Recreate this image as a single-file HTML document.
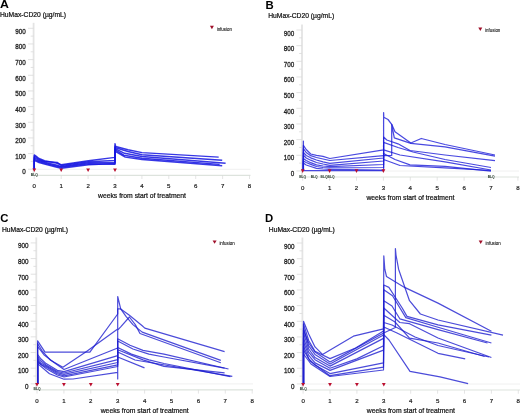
<!DOCTYPE html><html><head><meta charset="utf-8"><style>html,body{margin:0;padding:0;background:#fff;overflow:hidden}svg{display:block;will-change:transform}</style></head><body>
<svg width="520" height="413" viewBox="0 0 520 413" font-family='"Liberation Sans", sans-serif'>
<rect width="520" height="413" fill="#fff"/>
<text x="0.0" y="8.3" font-size="10.8" font-weight="bold" fill="#000" textLength="8.9" lengthAdjust="spacingAndGlyphs">A</text>
<text x="0.0" y="16.6" font-size="7" fill="#111" stroke="#111" stroke-width="0.22" textLength="66" lengthAdjust="spacingAndGlyphs">HuMax-CD20 (µg/mL)</text>
<line x1="33.6" y1="22.8" x2="33.6" y2="175.3" stroke="#e4e4e4" stroke-width="1.8"/>
<line x1="28.0" y1="28.30" x2="33.6" y2="28.30" stroke="#dadada" stroke-width="0.8"/>
<line x1="30.7" y1="36.13" x2="33.6" y2="36.13" stroke="#dadada" stroke-width="0.8"/>
<text x="25.8" y="33.85" font-size="7.2" fill="#1e1e1e" stroke="#1e1e1e" stroke-width="0.3" text-anchor="end" textLength="10.5" lengthAdjust="spacingAndGlyphs">900</text>
<line x1="28.0" y1="43.96" x2="33.6" y2="43.96" stroke="#dadada" stroke-width="0.8"/>
<line x1="30.7" y1="51.79" x2="33.6" y2="51.79" stroke="#dadada" stroke-width="0.8"/>
<text x="25.8" y="49.47" font-size="7.2" fill="#1e1e1e" stroke="#1e1e1e" stroke-width="0.3" text-anchor="end" textLength="10.5" lengthAdjust="spacingAndGlyphs">800</text>
<line x1="28.0" y1="59.62" x2="33.6" y2="59.62" stroke="#dadada" stroke-width="0.8"/>
<line x1="30.7" y1="67.45" x2="33.6" y2="67.45" stroke="#dadada" stroke-width="0.8"/>
<text x="25.8" y="65.08" font-size="7.2" fill="#1e1e1e" stroke="#1e1e1e" stroke-width="0.3" text-anchor="end" textLength="10.5" lengthAdjust="spacingAndGlyphs">700</text>
<line x1="28.0" y1="75.28" x2="33.6" y2="75.28" stroke="#dadada" stroke-width="0.8"/>
<line x1="30.7" y1="83.11" x2="33.6" y2="83.11" stroke="#dadada" stroke-width="0.8"/>
<text x="25.8" y="80.70" font-size="7.2" fill="#1e1e1e" stroke="#1e1e1e" stroke-width="0.3" text-anchor="end" textLength="10.5" lengthAdjust="spacingAndGlyphs">600</text>
<line x1="28.0" y1="90.94" x2="33.6" y2="90.94" stroke="#dadada" stroke-width="0.8"/>
<line x1="30.7" y1="98.77" x2="33.6" y2="98.77" stroke="#dadada" stroke-width="0.8"/>
<text x="25.8" y="96.32" font-size="7.2" fill="#1e1e1e" stroke="#1e1e1e" stroke-width="0.3" text-anchor="end" textLength="10.5" lengthAdjust="spacingAndGlyphs">500</text>
<line x1="28.0" y1="106.60" x2="33.6" y2="106.60" stroke="#dadada" stroke-width="0.8"/>
<line x1="30.7" y1="114.43" x2="33.6" y2="114.43" stroke="#dadada" stroke-width="0.8"/>
<text x="25.8" y="111.94" font-size="7.2" fill="#1e1e1e" stroke="#1e1e1e" stroke-width="0.3" text-anchor="end" textLength="10.5" lengthAdjust="spacingAndGlyphs">400</text>
<line x1="28.0" y1="122.26" x2="33.6" y2="122.26" stroke="#dadada" stroke-width="0.8"/>
<line x1="30.7" y1="130.09" x2="33.6" y2="130.09" stroke="#dadada" stroke-width="0.8"/>
<text x="25.8" y="127.55" font-size="7.2" fill="#1e1e1e" stroke="#1e1e1e" stroke-width="0.3" text-anchor="end" textLength="10.5" lengthAdjust="spacingAndGlyphs">300</text>
<line x1="28.0" y1="137.92" x2="33.6" y2="137.92" stroke="#dadada" stroke-width="0.8"/>
<line x1="30.7" y1="145.75" x2="33.6" y2="145.75" stroke="#dadada" stroke-width="0.8"/>
<text x="25.8" y="143.17" font-size="7.2" fill="#1e1e1e" stroke="#1e1e1e" stroke-width="0.3" text-anchor="end" textLength="10.5" lengthAdjust="spacingAndGlyphs">200</text>
<line x1="28.0" y1="153.58" x2="33.6" y2="153.58" stroke="#dadada" stroke-width="0.8"/>
<line x1="30.7" y1="161.41" x2="33.6" y2="161.41" stroke="#dadada" stroke-width="0.8"/>
<text x="25.8" y="158.79" font-size="7.2" fill="#1e1e1e" stroke="#1e1e1e" stroke-width="0.3" text-anchor="end" textLength="10.5" lengthAdjust="spacingAndGlyphs">100</text>
<line x1="28.0" y1="169.24" x2="33.6" y2="169.24" stroke="#dadada" stroke-width="0.8"/>
<text x="25.8" y="174.40" font-size="7.2" fill="#1e1e1e" stroke="#1e1e1e" stroke-width="0.3" text-anchor="end" textLength="3.5" lengthAdjust="spacingAndGlyphs">0</text>
<line x1="33.6" y1="169.30" x2="250.5" y2="169.30" stroke="#f0f0f0" stroke-width="1"/>
<line x1="31.0" y1="175.30" x2="250.5" y2="175.30" stroke="#dde3dd" stroke-width="1.2"/>
<line x1="34.30" y1="175.30" x2="34.30" y2="179.00" stroke="#dadada" stroke-width="0.7"/>
<text x="34.30" y="188.30" font-size="6.1" fill="#1e1e1e" stroke="#1e1e1e" stroke-width="0.2" text-anchor="middle">0</text>
<line x1="61.20" y1="175.30" x2="61.20" y2="179.00" stroke="#dadada" stroke-width="0.7"/>
<text x="61.20" y="188.30" font-size="6.1" fill="#1e1e1e" stroke="#1e1e1e" stroke-width="0.2" text-anchor="middle">1</text>
<line x1="88.10" y1="175.30" x2="88.10" y2="179.00" stroke="#dadada" stroke-width="0.7"/>
<text x="88.10" y="188.30" font-size="6.1" fill="#1e1e1e" stroke="#1e1e1e" stroke-width="0.2" text-anchor="middle">2</text>
<line x1="115.00" y1="175.30" x2="115.00" y2="179.00" stroke="#dadada" stroke-width="0.7"/>
<text x="115.00" y="188.30" font-size="6.1" fill="#1e1e1e" stroke="#1e1e1e" stroke-width="0.2" text-anchor="middle">3</text>
<line x1="141.90" y1="175.30" x2="141.90" y2="179.00" stroke="#dadada" stroke-width="0.7"/>
<text x="141.90" y="188.30" font-size="6.1" fill="#1e1e1e" stroke="#1e1e1e" stroke-width="0.2" text-anchor="middle">4</text>
<line x1="168.80" y1="175.30" x2="168.80" y2="179.00" stroke="#dadada" stroke-width="0.7"/>
<text x="168.80" y="188.30" font-size="6.1" fill="#1e1e1e" stroke="#1e1e1e" stroke-width="0.2" text-anchor="middle">5</text>
<line x1="195.70" y1="175.30" x2="195.70" y2="179.00" stroke="#dadada" stroke-width="0.7"/>
<text x="195.70" y="188.30" font-size="6.1" fill="#1e1e1e" stroke="#1e1e1e" stroke-width="0.2" text-anchor="middle">6</text>
<line x1="222.60" y1="175.30" x2="222.60" y2="179.00" stroke="#dadada" stroke-width="0.7"/>
<text x="222.60" y="188.30" font-size="6.1" fill="#1e1e1e" stroke="#1e1e1e" stroke-width="0.2" text-anchor="middle">7</text>
<line x1="249.50" y1="175.30" x2="249.50" y2="179.00" stroke="#dadada" stroke-width="0.7"/>
<text x="249.50" y="188.30" font-size="6.1" fill="#1e1e1e" stroke="#1e1e1e" stroke-width="0.2" text-anchor="middle">8</text>
<text x="98.00" y="198.00" font-size="7.4" fill="#111" stroke="#111" stroke-width="0.22" textLength="88" lengthAdjust="spacingAndGlyphs">weeks from start of treatment</text>
<path d="M209.90,25.80 h4 l-2,3.4 z" fill="#a0102a"/>
<text x="216.70" y="30.50" font-size="4.8" fill="#222" stroke="#222" stroke-width="0.12" textLength="15.2" lengthAdjust="spacingAndGlyphs">infusion</text>
<text x="265.6" y="8.6" font-size="10.8" font-weight="bold" fill="#000" textLength="8.2" lengthAdjust="spacingAndGlyphs">B</text>
<text x="268.2" y="18.4" font-size="7" fill="#111" stroke="#111" stroke-width="0.22" textLength="66" lengthAdjust="spacingAndGlyphs">HuMax-CD20 (µg/mL)</text>
<line x1="302.0" y1="24.5" x2="302.0" y2="177.0" stroke="#e4e4e4" stroke-width="1.8"/>
<line x1="296.4" y1="30.00" x2="302.0" y2="30.00" stroke="#dadada" stroke-width="0.8"/>
<line x1="299.09999999999997" y1="37.83" x2="302.0" y2="37.83" stroke="#dadada" stroke-width="0.8"/>
<text x="294.2" y="35.55" font-size="7.2" fill="#1e1e1e" stroke="#1e1e1e" stroke-width="0.3" text-anchor="end" textLength="10.5" lengthAdjust="spacingAndGlyphs">900</text>
<line x1="296.4" y1="45.66" x2="302.0" y2="45.66" stroke="#dadada" stroke-width="0.8"/>
<line x1="299.09999999999997" y1="53.49" x2="302.0" y2="53.49" stroke="#dadada" stroke-width="0.8"/>
<text x="294.2" y="51.17" font-size="7.2" fill="#1e1e1e" stroke="#1e1e1e" stroke-width="0.3" text-anchor="end" textLength="10.5" lengthAdjust="spacingAndGlyphs">800</text>
<line x1="296.4" y1="61.32" x2="302.0" y2="61.32" stroke="#dadada" stroke-width="0.8"/>
<line x1="299.09999999999997" y1="69.15" x2="302.0" y2="69.15" stroke="#dadada" stroke-width="0.8"/>
<text x="294.2" y="66.78" font-size="7.2" fill="#1e1e1e" stroke="#1e1e1e" stroke-width="0.3" text-anchor="end" textLength="10.5" lengthAdjust="spacingAndGlyphs">700</text>
<line x1="296.4" y1="76.98" x2="302.0" y2="76.98" stroke="#dadada" stroke-width="0.8"/>
<line x1="299.09999999999997" y1="84.81" x2="302.0" y2="84.81" stroke="#dadada" stroke-width="0.8"/>
<text x="294.2" y="82.40" font-size="7.2" fill="#1e1e1e" stroke="#1e1e1e" stroke-width="0.3" text-anchor="end" textLength="10.5" lengthAdjust="spacingAndGlyphs">600</text>
<line x1="296.4" y1="92.64" x2="302.0" y2="92.64" stroke="#dadada" stroke-width="0.8"/>
<line x1="299.09999999999997" y1="100.47" x2="302.0" y2="100.47" stroke="#dadada" stroke-width="0.8"/>
<text x="294.2" y="98.02" font-size="7.2" fill="#1e1e1e" stroke="#1e1e1e" stroke-width="0.3" text-anchor="end" textLength="10.5" lengthAdjust="spacingAndGlyphs">500</text>
<line x1="296.4" y1="108.30" x2="302.0" y2="108.30" stroke="#dadada" stroke-width="0.8"/>
<line x1="299.09999999999997" y1="116.13" x2="302.0" y2="116.13" stroke="#dadada" stroke-width="0.8"/>
<text x="294.2" y="113.64" font-size="7.2" fill="#1e1e1e" stroke="#1e1e1e" stroke-width="0.3" text-anchor="end" textLength="10.5" lengthAdjust="spacingAndGlyphs">400</text>
<line x1="296.4" y1="123.96" x2="302.0" y2="123.96" stroke="#dadada" stroke-width="0.8"/>
<line x1="299.09999999999997" y1="131.79" x2="302.0" y2="131.79" stroke="#dadada" stroke-width="0.8"/>
<text x="294.2" y="129.25" font-size="7.2" fill="#1e1e1e" stroke="#1e1e1e" stroke-width="0.3" text-anchor="end" textLength="10.5" lengthAdjust="spacingAndGlyphs">300</text>
<line x1="296.4" y1="139.62" x2="302.0" y2="139.62" stroke="#dadada" stroke-width="0.8"/>
<line x1="299.09999999999997" y1="147.45" x2="302.0" y2="147.45" stroke="#dadada" stroke-width="0.8"/>
<text x="294.2" y="144.87" font-size="7.2" fill="#1e1e1e" stroke="#1e1e1e" stroke-width="0.3" text-anchor="end" textLength="10.5" lengthAdjust="spacingAndGlyphs">200</text>
<line x1="296.4" y1="155.28" x2="302.0" y2="155.28" stroke="#dadada" stroke-width="0.8"/>
<line x1="299.09999999999997" y1="163.11" x2="302.0" y2="163.11" stroke="#dadada" stroke-width="0.8"/>
<text x="294.2" y="160.49" font-size="7.2" fill="#1e1e1e" stroke="#1e1e1e" stroke-width="0.3" text-anchor="end" textLength="10.5" lengthAdjust="spacingAndGlyphs">100</text>
<line x1="296.4" y1="170.94" x2="302.0" y2="170.94" stroke="#dadada" stroke-width="0.8"/>
<text x="294.2" y="176.10" font-size="7.2" fill="#1e1e1e" stroke="#1e1e1e" stroke-width="0.3" text-anchor="end" textLength="3.5" lengthAdjust="spacingAndGlyphs">0</text>
<line x1="302.0" y1="171.00" x2="519" y2="171.00" stroke="#f0f0f0" stroke-width="1"/>
<line x1="299.4" y1="177.00" x2="519" y2="177.00" stroke="#dde3dd" stroke-width="1.2"/>
<line x1="302.70" y1="177.00" x2="302.70" y2="180.70" stroke="#dadada" stroke-width="0.7"/>
<text x="302.70" y="190.00" font-size="6.1" fill="#1e1e1e" stroke="#1e1e1e" stroke-width="0.2" text-anchor="middle">0</text>
<line x1="329.60" y1="177.00" x2="329.60" y2="180.70" stroke="#dadada" stroke-width="0.7"/>
<text x="329.60" y="190.00" font-size="6.1" fill="#1e1e1e" stroke="#1e1e1e" stroke-width="0.2" text-anchor="middle">1</text>
<line x1="356.50" y1="177.00" x2="356.50" y2="180.70" stroke="#dadada" stroke-width="0.7"/>
<text x="356.50" y="190.00" font-size="6.1" fill="#1e1e1e" stroke="#1e1e1e" stroke-width="0.2" text-anchor="middle">2</text>
<line x1="383.40" y1="177.00" x2="383.40" y2="180.70" stroke="#dadada" stroke-width="0.7"/>
<text x="383.40" y="190.00" font-size="6.1" fill="#1e1e1e" stroke="#1e1e1e" stroke-width="0.2" text-anchor="middle">3</text>
<line x1="410.30" y1="177.00" x2="410.30" y2="180.70" stroke="#dadada" stroke-width="0.7"/>
<text x="410.30" y="190.00" font-size="6.1" fill="#1e1e1e" stroke="#1e1e1e" stroke-width="0.2" text-anchor="middle">4</text>
<line x1="437.20" y1="177.00" x2="437.20" y2="180.70" stroke="#dadada" stroke-width="0.7"/>
<text x="437.20" y="190.00" font-size="6.1" fill="#1e1e1e" stroke="#1e1e1e" stroke-width="0.2" text-anchor="middle">5</text>
<line x1="464.10" y1="177.00" x2="464.10" y2="180.70" stroke="#dadada" stroke-width="0.7"/>
<text x="464.10" y="190.00" font-size="6.1" fill="#1e1e1e" stroke="#1e1e1e" stroke-width="0.2" text-anchor="middle">6</text>
<line x1="491.00" y1="177.00" x2="491.00" y2="180.70" stroke="#dadada" stroke-width="0.7"/>
<text x="491.00" y="190.00" font-size="6.1" fill="#1e1e1e" stroke="#1e1e1e" stroke-width="0.2" text-anchor="middle">7</text>
<line x1="517.90" y1="177.00" x2="517.90" y2="180.70" stroke="#dadada" stroke-width="0.7"/>
<text x="517.90" y="190.00" font-size="6.1" fill="#1e1e1e" stroke="#1e1e1e" stroke-width="0.2" text-anchor="middle">8</text>
<text x="366.40" y="199.70" font-size="7.4" fill="#111" stroke="#111" stroke-width="0.22" textLength="88" lengthAdjust="spacingAndGlyphs">weeks from start of treatment</text>
<path d="M478.30,27.50 h4 l-2,3.4 z" fill="#a0102a"/>
<text x="485.10" y="32.20" font-size="4.8" fill="#222" stroke="#222" stroke-width="0.12" textLength="15.2" lengthAdjust="spacingAndGlyphs">infusion</text>
<text x="0.3" y="221.9" font-size="10.8" font-weight="bold" fill="#000" textLength="8.2" lengthAdjust="spacingAndGlyphs">C</text>
<text x="2.0" y="231.7" font-size="7" fill="#111" stroke="#111" stroke-width="0.22" textLength="66" lengthAdjust="spacingAndGlyphs">HuMax-CD20 (µg/mL)</text>
<line x1="36.300000000000004" y1="237.4" x2="36.300000000000004" y2="389.9" stroke="#e4e4e4" stroke-width="1.8"/>
<line x1="30.7" y1="242.90" x2="36.300000000000004" y2="242.90" stroke="#dadada" stroke-width="0.8"/>
<line x1="33.4" y1="250.73" x2="36.300000000000004" y2="250.73" stroke="#dadada" stroke-width="0.8"/>
<text x="28.5" y="248.45" font-size="7.2" fill="#1e1e1e" stroke="#1e1e1e" stroke-width="0.3" text-anchor="end" textLength="10.5" lengthAdjust="spacingAndGlyphs">900</text>
<line x1="30.7" y1="258.56" x2="36.300000000000004" y2="258.56" stroke="#dadada" stroke-width="0.8"/>
<line x1="33.4" y1="266.39" x2="36.300000000000004" y2="266.39" stroke="#dadada" stroke-width="0.8"/>
<text x="28.5" y="264.07" font-size="7.2" fill="#1e1e1e" stroke="#1e1e1e" stroke-width="0.3" text-anchor="end" textLength="10.5" lengthAdjust="spacingAndGlyphs">800</text>
<line x1="30.7" y1="274.22" x2="36.300000000000004" y2="274.22" stroke="#dadada" stroke-width="0.8"/>
<line x1="33.4" y1="282.05" x2="36.300000000000004" y2="282.05" stroke="#dadada" stroke-width="0.8"/>
<text x="28.5" y="279.68" font-size="7.2" fill="#1e1e1e" stroke="#1e1e1e" stroke-width="0.3" text-anchor="end" textLength="10.5" lengthAdjust="spacingAndGlyphs">700</text>
<line x1="30.7" y1="289.88" x2="36.300000000000004" y2="289.88" stroke="#dadada" stroke-width="0.8"/>
<line x1="33.4" y1="297.71" x2="36.300000000000004" y2="297.71" stroke="#dadada" stroke-width="0.8"/>
<text x="28.5" y="295.30" font-size="7.2" fill="#1e1e1e" stroke="#1e1e1e" stroke-width="0.3" text-anchor="end" textLength="10.5" lengthAdjust="spacingAndGlyphs">600</text>
<line x1="30.7" y1="305.54" x2="36.300000000000004" y2="305.54" stroke="#dadada" stroke-width="0.8"/>
<line x1="33.4" y1="313.37" x2="36.300000000000004" y2="313.37" stroke="#dadada" stroke-width="0.8"/>
<text x="28.5" y="310.92" font-size="7.2" fill="#1e1e1e" stroke="#1e1e1e" stroke-width="0.3" text-anchor="end" textLength="10.5" lengthAdjust="spacingAndGlyphs">500</text>
<line x1="30.7" y1="321.20" x2="36.300000000000004" y2="321.20" stroke="#dadada" stroke-width="0.8"/>
<line x1="33.4" y1="329.03" x2="36.300000000000004" y2="329.03" stroke="#dadada" stroke-width="0.8"/>
<text x="28.5" y="326.53" font-size="7.2" fill="#1e1e1e" stroke="#1e1e1e" stroke-width="0.3" text-anchor="end" textLength="10.5" lengthAdjust="spacingAndGlyphs">400</text>
<line x1="30.7" y1="336.86" x2="36.300000000000004" y2="336.86" stroke="#dadada" stroke-width="0.8"/>
<line x1="33.4" y1="344.69" x2="36.300000000000004" y2="344.69" stroke="#dadada" stroke-width="0.8"/>
<text x="28.5" y="342.15" font-size="7.2" fill="#1e1e1e" stroke="#1e1e1e" stroke-width="0.3" text-anchor="end" textLength="10.5" lengthAdjust="spacingAndGlyphs">300</text>
<line x1="30.7" y1="352.52" x2="36.300000000000004" y2="352.52" stroke="#dadada" stroke-width="0.8"/>
<line x1="33.4" y1="360.35" x2="36.300000000000004" y2="360.35" stroke="#dadada" stroke-width="0.8"/>
<text x="28.5" y="357.77" font-size="7.2" fill="#1e1e1e" stroke="#1e1e1e" stroke-width="0.3" text-anchor="end" textLength="10.5" lengthAdjust="spacingAndGlyphs">200</text>
<line x1="30.7" y1="368.18" x2="36.300000000000004" y2="368.18" stroke="#dadada" stroke-width="0.8"/>
<line x1="33.4" y1="376.01" x2="36.300000000000004" y2="376.01" stroke="#dadada" stroke-width="0.8"/>
<text x="28.5" y="373.39" font-size="7.2" fill="#1e1e1e" stroke="#1e1e1e" stroke-width="0.3" text-anchor="end" textLength="10.5" lengthAdjust="spacingAndGlyphs">100</text>
<line x1="30.7" y1="383.84" x2="36.300000000000004" y2="383.84" stroke="#dadada" stroke-width="0.8"/>
<text x="28.5" y="389.00" font-size="7.2" fill="#1e1e1e" stroke="#1e1e1e" stroke-width="0.3" text-anchor="end" textLength="3.5" lengthAdjust="spacingAndGlyphs">0</text>
<line x1="36.300000000000004" y1="383.90" x2="253" y2="383.90" stroke="#f0f0f0" stroke-width="1"/>
<line x1="33.7" y1="389.90" x2="253" y2="389.90" stroke="#dde3dd" stroke-width="1.2"/>
<line x1="37.00" y1="389.90" x2="37.00" y2="393.60" stroke="#dadada" stroke-width="0.7"/>
<text x="37.00" y="402.90" font-size="6.1" fill="#1e1e1e" stroke="#1e1e1e" stroke-width="0.2" text-anchor="middle">0</text>
<line x1="63.90" y1="389.90" x2="63.90" y2="393.60" stroke="#dadada" stroke-width="0.7"/>
<text x="63.90" y="402.90" font-size="6.1" fill="#1e1e1e" stroke="#1e1e1e" stroke-width="0.2" text-anchor="middle">1</text>
<line x1="90.80" y1="389.90" x2="90.80" y2="393.60" stroke="#dadada" stroke-width="0.7"/>
<text x="90.80" y="402.90" font-size="6.1" fill="#1e1e1e" stroke="#1e1e1e" stroke-width="0.2" text-anchor="middle">2</text>
<line x1="117.70" y1="389.90" x2="117.70" y2="393.60" stroke="#dadada" stroke-width="0.7"/>
<text x="117.70" y="402.90" font-size="6.1" fill="#1e1e1e" stroke="#1e1e1e" stroke-width="0.2" text-anchor="middle">3</text>
<line x1="144.60" y1="389.90" x2="144.60" y2="393.60" stroke="#dadada" stroke-width="0.7"/>
<text x="144.60" y="402.90" font-size="6.1" fill="#1e1e1e" stroke="#1e1e1e" stroke-width="0.2" text-anchor="middle">4</text>
<line x1="171.50" y1="389.90" x2="171.50" y2="393.60" stroke="#dadada" stroke-width="0.7"/>
<text x="171.50" y="402.90" font-size="6.1" fill="#1e1e1e" stroke="#1e1e1e" stroke-width="0.2" text-anchor="middle">5</text>
<line x1="198.40" y1="389.90" x2="198.40" y2="393.60" stroke="#dadada" stroke-width="0.7"/>
<text x="198.40" y="402.90" font-size="6.1" fill="#1e1e1e" stroke="#1e1e1e" stroke-width="0.2" text-anchor="middle">6</text>
<line x1="225.30" y1="389.90" x2="225.30" y2="393.60" stroke="#dadada" stroke-width="0.7"/>
<text x="225.30" y="402.90" font-size="6.1" fill="#1e1e1e" stroke="#1e1e1e" stroke-width="0.2" text-anchor="middle">7</text>
<line x1="252.20" y1="389.90" x2="252.20" y2="393.60" stroke="#dadada" stroke-width="0.7"/>
<text x="252.20" y="402.90" font-size="6.1" fill="#1e1e1e" stroke="#1e1e1e" stroke-width="0.2" text-anchor="middle">8</text>
<text x="100.70" y="412.60" font-size="7.4" fill="#111" stroke="#111" stroke-width="0.22" textLength="88" lengthAdjust="spacingAndGlyphs">weeks from start of treatment</text>
<path d="M212.60,240.40 h4 l-2,3.4 z" fill="#a0102a"/>
<text x="219.40" y="245.10" font-size="4.8" fill="#222" stroke="#222" stroke-width="0.12" textLength="15.2" lengthAdjust="spacingAndGlyphs">infusion</text>
<text x="265.0" y="222.0" font-size="10.8" font-weight="bold" fill="#000" textLength="8.2" lengthAdjust="spacingAndGlyphs">D</text>
<text x="268.8" y="231.5" font-size="7" fill="#111" stroke="#111" stroke-width="0.22" textLength="66" lengthAdjust="spacingAndGlyphs">HuMax-CD20 (µg/mL)</text>
<line x1="302.40000000000003" y1="237.5" x2="302.40000000000003" y2="390.0" stroke="#e4e4e4" stroke-width="1.8"/>
<line x1="296.8" y1="243.00" x2="302.40000000000003" y2="243.00" stroke="#dadada" stroke-width="0.8"/>
<line x1="299.5" y1="250.83" x2="302.40000000000003" y2="250.83" stroke="#dadada" stroke-width="0.8"/>
<text x="294.6" y="248.55" font-size="7.2" fill="#1e1e1e" stroke="#1e1e1e" stroke-width="0.3" text-anchor="end" textLength="10.5" lengthAdjust="spacingAndGlyphs">900</text>
<line x1="296.8" y1="258.66" x2="302.40000000000003" y2="258.66" stroke="#dadada" stroke-width="0.8"/>
<line x1="299.5" y1="266.49" x2="302.40000000000003" y2="266.49" stroke="#dadada" stroke-width="0.8"/>
<text x="294.6" y="264.17" font-size="7.2" fill="#1e1e1e" stroke="#1e1e1e" stroke-width="0.3" text-anchor="end" textLength="10.5" lengthAdjust="spacingAndGlyphs">800</text>
<line x1="296.8" y1="274.32" x2="302.40000000000003" y2="274.32" stroke="#dadada" stroke-width="0.8"/>
<line x1="299.5" y1="282.15" x2="302.40000000000003" y2="282.15" stroke="#dadada" stroke-width="0.8"/>
<text x="294.6" y="279.78" font-size="7.2" fill="#1e1e1e" stroke="#1e1e1e" stroke-width="0.3" text-anchor="end" textLength="10.5" lengthAdjust="spacingAndGlyphs">700</text>
<line x1="296.8" y1="289.98" x2="302.40000000000003" y2="289.98" stroke="#dadada" stroke-width="0.8"/>
<line x1="299.5" y1="297.81" x2="302.40000000000003" y2="297.81" stroke="#dadada" stroke-width="0.8"/>
<text x="294.6" y="295.40" font-size="7.2" fill="#1e1e1e" stroke="#1e1e1e" stroke-width="0.3" text-anchor="end" textLength="10.5" lengthAdjust="spacingAndGlyphs">600</text>
<line x1="296.8" y1="305.64" x2="302.40000000000003" y2="305.64" stroke="#dadada" stroke-width="0.8"/>
<line x1="299.5" y1="313.47" x2="302.40000000000003" y2="313.47" stroke="#dadada" stroke-width="0.8"/>
<text x="294.6" y="311.02" font-size="7.2" fill="#1e1e1e" stroke="#1e1e1e" stroke-width="0.3" text-anchor="end" textLength="10.5" lengthAdjust="spacingAndGlyphs">500</text>
<line x1="296.8" y1="321.30" x2="302.40000000000003" y2="321.30" stroke="#dadada" stroke-width="0.8"/>
<line x1="299.5" y1="329.13" x2="302.40000000000003" y2="329.13" stroke="#dadada" stroke-width="0.8"/>
<text x="294.6" y="326.63" font-size="7.2" fill="#1e1e1e" stroke="#1e1e1e" stroke-width="0.3" text-anchor="end" textLength="10.5" lengthAdjust="spacingAndGlyphs">400</text>
<line x1="296.8" y1="336.96" x2="302.40000000000003" y2="336.96" stroke="#dadada" stroke-width="0.8"/>
<line x1="299.5" y1="344.79" x2="302.40000000000003" y2="344.79" stroke="#dadada" stroke-width="0.8"/>
<text x="294.6" y="342.25" font-size="7.2" fill="#1e1e1e" stroke="#1e1e1e" stroke-width="0.3" text-anchor="end" textLength="10.5" lengthAdjust="spacingAndGlyphs">300</text>
<line x1="296.8" y1="352.62" x2="302.40000000000003" y2="352.62" stroke="#dadada" stroke-width="0.8"/>
<line x1="299.5" y1="360.45" x2="302.40000000000003" y2="360.45" stroke="#dadada" stroke-width="0.8"/>
<text x="294.6" y="357.87" font-size="7.2" fill="#1e1e1e" stroke="#1e1e1e" stroke-width="0.3" text-anchor="end" textLength="10.5" lengthAdjust="spacingAndGlyphs">200</text>
<line x1="296.8" y1="368.28" x2="302.40000000000003" y2="368.28" stroke="#dadada" stroke-width="0.8"/>
<line x1="299.5" y1="376.11" x2="302.40000000000003" y2="376.11" stroke="#dadada" stroke-width="0.8"/>
<text x="294.6" y="373.49" font-size="7.2" fill="#1e1e1e" stroke="#1e1e1e" stroke-width="0.3" text-anchor="end" textLength="10.5" lengthAdjust="spacingAndGlyphs">100</text>
<line x1="296.8" y1="383.94" x2="302.40000000000003" y2="383.94" stroke="#dadada" stroke-width="0.8"/>
<text x="294.6" y="389.10" font-size="7.2" fill="#1e1e1e" stroke="#1e1e1e" stroke-width="0.3" text-anchor="end" textLength="3.5" lengthAdjust="spacingAndGlyphs">0</text>
<line x1="302.40000000000003" y1="384.00" x2="520" y2="384.00" stroke="#f0f0f0" stroke-width="1"/>
<line x1="299.8" y1="390.00" x2="520" y2="390.00" stroke="#dde3dd" stroke-width="1.2"/>
<line x1="303.10" y1="390.00" x2="303.10" y2="393.70" stroke="#dadada" stroke-width="0.7"/>
<text x="303.10" y="403.00" font-size="6.1" fill="#1e1e1e" stroke="#1e1e1e" stroke-width="0.2" text-anchor="middle">0</text>
<line x1="330.00" y1="390.00" x2="330.00" y2="393.70" stroke="#dadada" stroke-width="0.7"/>
<text x="330.00" y="403.00" font-size="6.1" fill="#1e1e1e" stroke="#1e1e1e" stroke-width="0.2" text-anchor="middle">1</text>
<line x1="356.90" y1="390.00" x2="356.90" y2="393.70" stroke="#dadada" stroke-width="0.7"/>
<text x="356.90" y="403.00" font-size="6.1" fill="#1e1e1e" stroke="#1e1e1e" stroke-width="0.2" text-anchor="middle">2</text>
<line x1="383.80" y1="390.00" x2="383.80" y2="393.70" stroke="#dadada" stroke-width="0.7"/>
<text x="383.80" y="403.00" font-size="6.1" fill="#1e1e1e" stroke="#1e1e1e" stroke-width="0.2" text-anchor="middle">3</text>
<line x1="410.70" y1="390.00" x2="410.70" y2="393.70" stroke="#dadada" stroke-width="0.7"/>
<text x="410.70" y="403.00" font-size="6.1" fill="#1e1e1e" stroke="#1e1e1e" stroke-width="0.2" text-anchor="middle">4</text>
<line x1="437.60" y1="390.00" x2="437.60" y2="393.70" stroke="#dadada" stroke-width="0.7"/>
<text x="437.60" y="403.00" font-size="6.1" fill="#1e1e1e" stroke="#1e1e1e" stroke-width="0.2" text-anchor="middle">5</text>
<line x1="464.50" y1="390.00" x2="464.50" y2="393.70" stroke="#dadada" stroke-width="0.7"/>
<text x="464.50" y="403.00" font-size="6.1" fill="#1e1e1e" stroke="#1e1e1e" stroke-width="0.2" text-anchor="middle">6</text>
<line x1="491.40" y1="390.00" x2="491.40" y2="393.70" stroke="#dadada" stroke-width="0.7"/>
<text x="491.40" y="403.00" font-size="6.1" fill="#1e1e1e" stroke="#1e1e1e" stroke-width="0.2" text-anchor="middle">7</text>
<line x1="518.30" y1="390.00" x2="518.30" y2="393.70" stroke="#dadada" stroke-width="0.7"/>
<text x="518.30" y="403.00" font-size="6.1" fill="#1e1e1e" stroke="#1e1e1e" stroke-width="0.2" text-anchor="middle">8</text>
<text x="366.80" y="412.70" font-size="7.4" fill="#111" stroke="#111" stroke-width="0.22" textLength="88" lengthAdjust="spacingAndGlyphs">weeks from start of treatment</text>
<path d="M478.70,240.50 h4 l-2,3.4 z" fill="#a0102a"/>
<text x="485.50" y="245.20" font-size="4.8" fill="#222" stroke="#222" stroke-width="0.12" textLength="15.2" lengthAdjust="spacingAndGlyphs">infusion</text>
<g fill="none" stroke="#1414e0" stroke-width="1.45" stroke-opacity="0.85" stroke-linejoin="round">
<path d="M34.30,169.30 L34.30,154.90 L36.00,156.00 L39.00,158.50 L44.50,160.70 L56.00,163.00 L61.30,164.70 L88.40,160.70 L115.00,157.40 L115.00,143.60 L115.70,146.50 L128.00,149.80 L142.00,152.60 L218.70,157.10"/>
<path d="M34.30,169.30 L34.30,156.00 L36.00,157.20 L39.00,159.50 L44.50,161.50 L57.20,162.40 L61.30,165.50 L88.40,161.70 L115.00,160.50 L115.00,146.00 L115.70,147.70 L128.00,151.50 L142.00,154.80 L222.20,160.20"/>
<path d="M34.30,169.30 L34.30,157.50 L36.00,158.50 L39.00,160.50 L44.50,162.30 L56.00,165.00 L61.30,166.50 L88.40,162.70 L115.00,162.40 L115.00,147.50 L115.70,148.80 L124.50,153.30 L142.00,156.50 L225.60,163.20"/>
<path d="M34.30,169.30 L34.30,159.00 L36.00,159.80 L39.00,161.50 L44.50,163.20 L56.00,166.00 L61.30,167.30 L88.40,163.70 L115.00,164.25 L115.00,149.00 L115.70,150.00 L123.80,155.20 L142.00,158.30 L219.60,164.40"/>
<path d="M34.30,169.30 L34.30,160.50 L36.00,161.00 L39.00,162.50 L44.50,164.10 L56.00,167.00 L61.30,168.20 L88.40,164.70 L115.00,163.50 L115.00,150.00 L115.70,151.50 L125.30,157.10 L142.00,159.50 L222.20,165.80"/>
</g>
<g fill="none" stroke="#1c1cd8" stroke-width="1.25" stroke-opacity="0.8" stroke-linejoin="round">
<path d="M303.40,170.80 L303.40,141.00 L303.40,145.40"/>
<path d="M303.40,170.80 L303.40,145.40 L306.20,149.50 L310.70,154.00 L316.50,155.30 L323.00,156.30 L329.80,158.50 L383.60,149.80 L383.60,112.50 L383.80,117.20 L388.00,119.50 L391.70,124.30 L395.00,131.80 L410.80,143.00 L421.30,138.50 L445.00,144.50 L495.00,155.00"/>
<path d="M303.40,170.80 L303.40,148.70 L306.20,152.50 L310.70,155.70 L316.50,157.50 L323.00,159.00 L329.80,160.50 L383.60,155.60 L391.70,155.50 L391.70,124.30 L394.30,137.80 L410.80,143.30 L445.00,146.80 L495.00,156.20"/>
<path d="M303.40,170.80 L303.40,152.40 L306.20,155.50 L310.70,157.80 L316.50,160.00 L323.00,161.80 L329.80,163.30 L383.60,158.00 L383.60,137.00 L386.80,140.00 L398.00,143.80 L410.00,150.50 L445.00,155.00 L495.00,160.60"/>
<path d="M303.40,170.80 L303.40,155.30 L306.20,158.00 L310.70,160.20 L316.50,162.50 L323.00,164.00 L329.80,165.30 L383.60,161.00 L383.60,142.30 L398.00,147.50 L413.00,152.00 L445.00,159.50 L491.00,167.50"/>
<path d="M303.40,170.80 L303.40,158.60 L306.20,160.50 L310.70,162.70 L316.50,164.80 L323.00,166.00 L329.80,166.60 L383.60,164.50 L383.60,149.80 L400.00,155.00 L445.00,161.80 L491.00,170.00"/>
<path d="M303.40,170.80 L303.40,161.00 L306.20,162.50 L310.70,164.30 L316.50,166.50 L323.00,167.50 L329.80,167.80 L383.60,167.50 L383.60,153.50 L395.00,159.50 L410.00,164.80 L445.00,166.30 L491.00,171.20"/>
<path d="M303.40,170.80 L303.40,163.00 L306.20,165.00 L310.70,166.50 L316.50,168.30 L323.00,169.00 L329.80,169.30 L383.60,170.00 L383.60,159.50 L400.00,165.50 L445.00,167.80 L491.00,170.50"/>
<path d="M303.40,170.70 L383.60,170.70"/>
</g>
<g fill="none" stroke="#1e1ed0" stroke-width="1.2" stroke-opacity="0.8" stroke-linejoin="round">
<path d="M37.60,384.00 L37.60,340.80 L38.30,341.90 L45.00,352.20 L89.90,352.20 L117.70,314.00 L117.70,296.50 L120.70,308.90 L129.40,315.30 L142.20,325.70 L144.80,328.10 L224.60,351.70"/>
<path d="M37.60,384.00 L37.60,343.50 L41.70,350.30 L50.60,360.30 L62.90,367.20 L86.50,351.50 L117.70,329.00 L117.70,308.90 L120.70,308.90 L126.00,316.40 L132.90,324.60 L142.20,332.10 L220.80,360.40"/>
<path d="M37.60,384.00 L37.60,346.50 L43.90,354.70 L54.00,362.50 L64.00,369.50 L117.70,348.00 L117.70,330.00 L120.70,326.90 L129.40,317.00 L135.30,324.60 L140.00,333.50 L220.80,362.70"/>
<path d="M37.60,384.00 L37.60,354.50 L41.00,359.00 L46.10,363.60 L57.30,370.30 L64.00,371.60 L117.70,355.60 L117.70,338.80 L130.00,345.30 L143.00,350.40 L164.00,354.10 L228.50,369.00"/>
<path d="M37.60,384.00 L37.60,356.50 L41.00,361.00 L46.10,365.00 L57.30,371.50 L64.00,373.00 L117.70,359.60 L117.70,341.00 L132.90,349.00 L148.90,354.10 L164.00,357.00 L224.60,368.10"/>
<path d="M37.60,384.00 L37.60,358.50 L41.00,363.00 L46.10,366.00 L57.30,372.60 L64.00,374.40 L117.70,362.50 L117.70,347.50 L131.40,354.10 L148.90,359.90 L164.00,363.50 L230.40,376.70"/>
<path d="M37.60,384.00 L37.60,360.30 L41.00,364.50 L46.10,367.00 L57.30,373.70 L64.00,375.90 L117.70,364.80 L117.70,349.70 L143.00,359.90 L164.00,366.40 L224.60,372.90"/>
<path d="M37.60,384.00 L37.60,362.00 L46.10,368.50 L57.30,375.00 L64.00,377.00 L117.70,366.50 L117.70,357.00 L144.50,367.90"/>
<path d="M37.60,384.00 L37.60,363.60 L49.50,373.70 L64.00,379.20 L73.00,379.00 L117.70,372.30 L117.70,379.00 L117.70,352.00 L135.00,360.00 L232.30,376.30"/>
</g>
<g fill="none" stroke="#1e1ed0" stroke-width="1.2" stroke-opacity="0.8" stroke-linejoin="round">
<path d="M303.50,384.00 L303.50,321.30 L308.70,334.10 L315.00,346.90 L322.50,354.40 L353.40,336.20 L383.50,328.80 L383.80,255.90 L384.80,269.20 L386.50,276.50 L404.60,287.40 L438.00,303.10 L491.40,331.30"/>
<path d="M303.50,384.00 L303.50,324.00 L308.70,340.50 L315.00,351.20 L330.00,358.60 L355.60,348.00 L383.50,330.90 L383.80,285.00 L388.90,287.40 L402.20,308.00 L407.00,316.40 L438.00,324.90 L491.40,335.20"/>
<path d="M303.50,384.00 L303.50,328.00 L308.70,345.80 L315.00,354.40 L330.00,364.00 L383.50,335.00 L383.80,289.80 L392.50,295.80 L405.80,317.60 L438.00,327.30 L491.40,343.00"/>
<path d="M303.50,384.00 L303.50,333.00 L308.70,349.00 L315.00,357.60 L330.00,366.10 L383.50,338.40 L383.80,300.70 L392.00,306.00 L399.80,318.80 L438.00,329.70 L487.50,343.00"/>
<path d="M303.50,384.00 L303.50,338.00 L308.70,352.20 L315.00,359.70 L330.00,368.20 L356.80,358.90 L383.50,345.80 L383.80,308.00 L399.80,322.50 L409.50,323.70 L438.00,338.00 L491.40,357.50"/>
<path d="M303.50,384.00 L303.50,342.00 L308.70,355.40 L315.00,362.90 L330.00,370.40 L383.50,350.10 L383.80,315.20 L395.00,322.00 L409.50,338.20 L438.00,343.00 L484.60,356.50"/>
<path d="M303.50,384.00 L303.50,346.00 L308.70,358.60 L315.00,365.00 L330.00,373.60 L383.50,362.90 L383.80,322.50 L392.00,325.00 L415.00,337.00 L438.00,345.50 L489.00,357.00"/>
<path d="M303.50,384.00 L303.50,350.00 L310.00,361.00 L330.00,375.70 L383.50,367.20 L383.80,327.00 L397.00,333.00 L438.00,353.30 L465.20,358.80"/>
<path d="M303.50,384.00 L303.50,354.00 L311.00,364.00 L330.00,376.50 L383.50,370.00 L383.80,334.60 L389.00,340.00 L410.00,371.30 L440.00,376.90 L468.10,383.60"/>
<path d="M303.50,384.00 L303.50,330.00 L308.70,343.00 L315.00,352.00 L330.00,362.00 L338.50,357.60 L383.70,333.00 L395.40,327.50 L395.40,248.60 L396.00,255.00 L398.60,269.20 L409.50,300.70 L420.40,314.00 L438.00,320.00 L503.00,335.20"/>
</g>
<path d="M32.40,168.40 h3.8 l-1.9,3.7 z" fill="#bb1030"/>
<path d="M59.30,168.40 h3.8 l-1.9,3.7 z" fill="#bb1030"/>
<path d="M86.20,168.40 h3.8 l-1.9,3.7 z" fill="#bb1030"/>
<path d="M113.10,168.40 h3.8 l-1.9,3.7 z" fill="#bb1030"/>
<path d="M300.80,169.20 h3.8 l-1.9,3.7 z" fill="#bb1030"/>
<path d="M327.70,169.20 h3.8 l-1.9,3.7 z" fill="#bb1030"/>
<path d="M354.60,169.20 h3.8 l-1.9,3.7 z" fill="#bb1030"/>
<path d="M381.50,169.20 h3.8 l-1.9,3.7 z" fill="#bb1030"/>
<path d="M35.10,382.90 h3.8 l-1.9,3.7 z" fill="#bb1030"/>
<path d="M62.00,382.90 h3.8 l-1.9,3.7 z" fill="#bb1030"/>
<path d="M88.90,382.90 h3.8 l-1.9,3.7 z" fill="#bb1030"/>
<path d="M115.80,382.90 h3.8 l-1.9,3.7 z" fill="#bb1030"/>
<path d="M301.20,382.90 h3.8 l-1.9,3.7 z" fill="#bb1030"/>
<path d="M328.10,382.90 h3.8 l-1.9,3.7 z" fill="#bb1030"/>
<path d="M355.00,382.90 h3.8 l-1.9,3.7 z" fill="#bb1030"/>
<path d="M381.90,382.90 h3.8 l-1.9,3.7 z" fill="#bb1030"/>
<text x="34.30" y="175.80" font-size="3.9" font-weight="bold" fill="#263a2c" text-anchor="middle" textLength="7.0" lengthAdjust="spacingAndGlyphs">BLQ</text>
<text x="302.70" y="177.50" font-size="3.9" font-weight="bold" fill="#263a2c" text-anchor="middle" textLength="7.0" lengthAdjust="spacingAndGlyphs">BLQ</text>
<text x="314.20" y="177.50" font-size="3.9" font-weight="bold" fill="#263a2c" text-anchor="middle" textLength="7.0" lengthAdjust="spacingAndGlyphs">BLQ</text>
<text x="327.50" y="177.50" font-size="3.9" font-weight="bold" fill="#263a2c" text-anchor="middle" textLength="14.0" lengthAdjust="spacingAndGlyphs">BLQBLQ</text>
<text x="491.20" y="177.50" font-size="3.9" font-weight="bold" fill="#263a2c" text-anchor="middle" textLength="7.0" lengthAdjust="spacingAndGlyphs">BLQ</text>
<text x="37.00" y="390.20" font-size="3.9" font-weight="bold" fill="#263a2c" text-anchor="middle" textLength="7.0" lengthAdjust="spacingAndGlyphs">BLQ</text>
<text x="303.30" y="390.20" font-size="3.9" font-weight="bold" fill="#263a2c" text-anchor="middle" textLength="7.0" lengthAdjust="spacingAndGlyphs">BLQ</text>
</svg></body></html>
